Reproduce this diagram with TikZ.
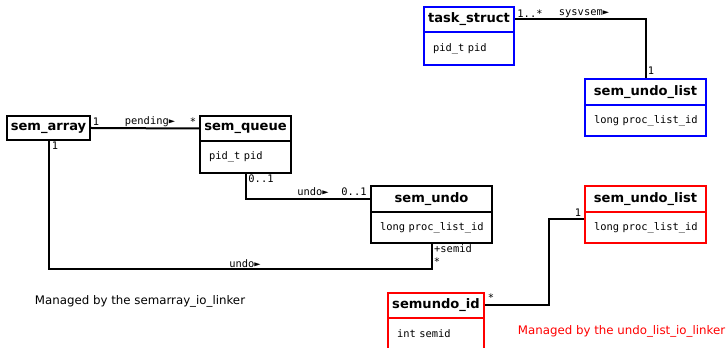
\documentclass[tikz,border=0pt]{standalone}
\usepackage{fontspec}
\setmainfont{DejaVu Sans}
\setmonofont{DejaVu Sans Mono}
\usetikzlibrary{shapes}
\definecolor{umlblau}{rgb}{0,0,1}
\definecolor{umlrot}{rgb}{1,0,0}
\tikzstyle{head} = [draw=black,line width=1.5pt,rectangle,inner sep=0pt,font=\fontsize{9.8}{11}\selectfont\bfseries]
\tikzstyle{body} = [draw=black,line width=1.5pt,rectangle,inner xsep=6.75pt,inner ysep=0pt,align=left,font=\fontsize{7.8}{9}\selectfont\ttfamily]
\tikzstyle{role} = [inner sep=0pt,font=\fontsize{7.8}{9}\selectfont\ttfamily]
\tikzstyle{assoc} = [line width=1.5pt,draw=black]
\tikzstyle{note} = [inner sep=0pt,font=\fontsize{8.85}{10}\selectfont]

\begin{document}
\begin{tikzpicture}[x=0.75pt,y=-0.75pt]
\useasboundingbox (0,0) rectangle (727,348);

% classes
\node[head,minimum width=62.25pt,minimum height=18pt] (SA) at (48.5,128) {sem\_array};

\node[head,minimum width=68.25pt,minimum height=18.75pt] (SQ) at (245.5,128.5) {sem\_queue};
\node[body,minimum width=68.25pt,minimum height=24pt,text width=54.75pt] (SQb) at (245.5,157) {pid\_t~pid};

\node[head,draw=umlblau,minimum width=67.5pt,minimum height=18.75pt] (TS) at (469,19.5) {task\_struct};
\node[body,draw=umlblau,minimum width=67.5pt,minimum height=24.75pt,text width=54pt] (TSb) at (469,48.5) {pid\_t~pid};

\node[head,draw=umlblau,minimum width=90.75pt,minimum height=19.5pt] (UL) at (645.5,92) {sem\_undo\_list};
\node[body,draw=umlblau,minimum width=90.75pt,minimum height=23.25pt,text width=77.25pt] (ULb) at (645.5,120.5) {long~proc\_list\_id};

\node[head,minimum width=90.75pt,minimum height=19.5pt] (SU) at (431.5,199) {sem\_undo};
\node[body,minimum width=90.75pt,minimum height=23.25pt,text width=77.25pt] (SUb) at (431.5,227.5) {long~proc\_list\_id};

\node[head,draw=umlrot,minimum width=90.75pt,minimum height=19.5pt] (ULR) at (645.5,199) {sem\_undo\_list};
\node[body,draw=umlrot,minimum width=90.75pt,minimum height=23.25pt,text width=77.25pt] (ULRb) at (645.5,227.5) {long~proc\_list\_id};

\node[head,draw=umlrot,minimum width=72pt,minimum height=18.75pt] (SI) at (436,305.5) {semundo\_id};
\node[body,draw=umlrot,minimum width=72pt,minimum height=24pt,text width=58.5pt] (SIb) at (436,334) {int~semid};

% associations
\draw[assoc] (SA.east) -- (SQ.west);
\node[role] (pend1) at (96,122) {1};
\node[role] (pend) at (150,122) {pending►};
\node[role] (pendn) at (193,122) {*};

\coordinate (undoturn) at (48.5,269);
\draw[assoc] (SA.south) -- (undoturn) -| (SUb.south);
\node[role] (und1) at (55,146) {1};
\node[role] (und) at (245,264) {undo►};
\node[role] (semid) at (453,249) {+semid};
\node[role] (semidn) at (437,262) {*};

\draw[assoc] (SQb.south) |- (SU.west);
\node[role] (qu1) at (261,179) {0..1};
\node[role] (qu) at (313,192) {undo►};
\node[role] (qu2) at (354,192) {0..1};

\draw[assoc] (TS.east) -| (UL.north);
\node[role] (sys1) at (530,14) {1..*};
\node[role] (sys) at (584,14) {sysvsem►};
\node[role] (sys2) at (651,71) {1};

\coordinate (idturn) at (549,219);
\draw[assoc] (SI.east) -| (idturn) -- (idturn -| ULRb.west);
\node[role] (idn) at (491,298) {*};
\node[role] (id1) at (578,213) {1};

% notes
\node[note] (linker1) at (140,301) {Managed by the semarray\_io\_linker};
\node[note] (linker2) at (621.5,331.5) {\color{umlrot}Managed by the undo\_list\_io\_linker};
\end{tikzpicture}
\end{document}
